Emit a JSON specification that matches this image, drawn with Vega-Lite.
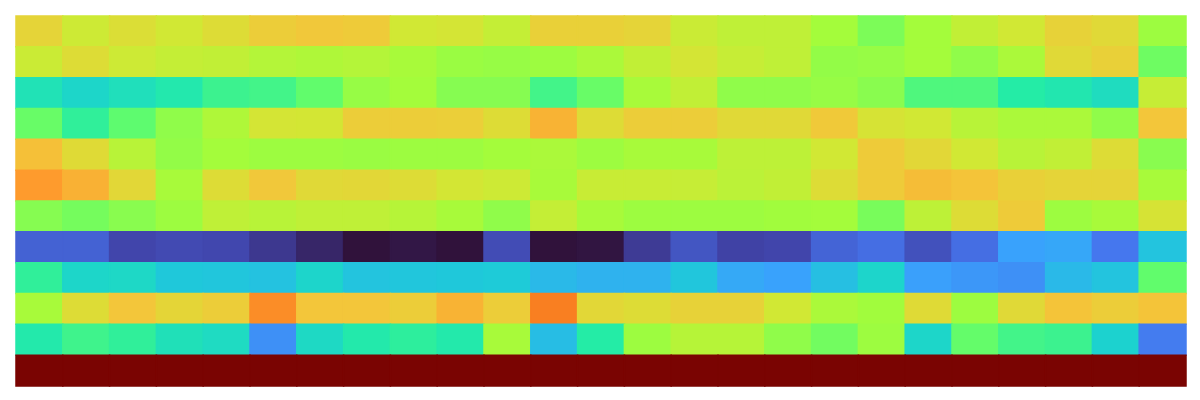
{
  "$schema": "https://vega.github.io/schema/vega-lite/v6.json",
  "width": 1170,
  "height": 370,
  "padding": 15,
  "background": "white",
  "config": {"view": {"stroke": null}},
  "data": {"values": [
{"r":1,"c":1,"v":8.6},{"r":1,"c":2,"v":7.9},{"r":1,"c":3,"v":8.3},{"r":1,"c":4,"v":8.0},{"r":1,"c":5,"v":8.35},{"r":1,"c":6,"v":8.8},{"r":1,"c":7,"v":8.95},{"r":1,"c":8,"v":8.85},{"r":1,"c":9,"v":8.0},{"r":1,"c":10,"v":8.1},{"r":1,"c":11,"v":7.7},{"r":1,"c":12,"v":8.7},{"r":1,"c":13,"v":8.7},{"r":1,"c":14,"v":8.6},{"r":1,"c":15,"v":7.85},{"r":1,"c":16,"v":7.6},{"r":1,"c":17,"v":7.6},{"r":1,"c":18,"v":7.0},{"r":1,"c":19,"v":6.4},{"r":1,"c":20,"v":7.0},{"r":1,"c":21,"v":7.65},{"r":1,"c":22,"v":8.0},{"r":1,"c":23,"v":8.65},{"r":1,"c":24,"v":8.45},{"r":1,"c":25,"v":6.9},
{"r":2,"c":1,"v":7.85},{"r":2,"c":2,"v":8.35},{"r":2,"c":3,"v":7.9},{"r":2,"c":4,"v":7.7},{"r":2,"c":5,"v":7.65},{"r":2,"c":6,"v":7.35},{"r":2,"c":7,"v":7.25},{"r":2,"c":8,"v":7.35},{"r":2,"c":9,"v":7.1},{"r":2,"c":10,"v":6.85},{"r":2,"c":11,"v":6.8},{"r":2,"c":12,"v":6.9},{"r":2,"c":13,"v":7.15},{"r":2,"c":14,"v":7.65},{"r":2,"c":15,"v":8.1},{"r":2,"c":16,"v":7.75},{"r":2,"c":17,"v":7.6},{"r":2,"c":18,"v":6.75},{"r":2,"c":19,"v":6.8},{"r":2,"c":20,"v":7.0},{"r":2,"c":21,"v":6.7},{"r":2,"c":22,"v":7.15},{"r":2,"c":23,"v":8.45},{"r":2,"c":24,"v":8.7},{"r":2,"c":25,"v":6.2},
{"r":3,"c":1,"v":4.65},{"r":3,"c":2,"v":4.25},{"r":3,"c":3,"v":4.55},{"r":3,"c":4,"v":4.85},{"r":3,"c":5,"v":5.4},{"r":3,"c":6,"v":5.5},{"r":3,"c":7,"v":6.0},{"r":3,"c":8,"v":6.8},{"r":3,"c":9,"v":7.0},{"r":3,"c":10,"v":6.55},{"r":3,"c":11,"v":6.55},{"r":3,"c":12,"v":5.5},{"r":3,"c":13,"v":6.1},{"r":3,"c":14,"v":7.1},{"r":3,"c":15,"v":7.65},{"r":3,"c":16,"v":6.7},{"r":3,"c":17,"v":6.7},{"r":3,"c":18,"v":6.8},{"r":3,"c":19,"v":6.6},{"r":3,"c":20,"v":5.7},{"r":3,"c":21,"v":5.7},{"r":3,"c":22,"v":5.0},{"r":3,"c":23,"v":4.8},{"r":3,"c":24,"v":4.45},{"r":3,"c":25,"v":7.75},
{"r":4,"c":1,"v":6.1},{"r":4,"c":2,"v":5.2},{"r":4,"c":3,"v":5.95},{"r":4,"c":4,"v":6.7},{"r":4,"c":5,"v":7.25},{"r":4,"c":6,"v":8.1},{"r":4,"c":7,"v":8.05},{"r":4,"c":8,"v":8.8},{"r":4,"c":9,"v":8.8},{"r":4,"c":10,"v":8.75},{"r":4,"c":11,"v":8.35},{"r":4,"c":12,"v":9.45},{"r":4,"c":13,"v":8.35},{"r":4,"c":14,"v":8.8},{"r":4,"c":15,"v":8.8},{"r":4,"c":16,"v":8.45},{"r":4,"c":17,"v":8.45},{"r":4,"c":18,"v":8.9},{"r":4,"c":19,"v":8.15},{"r":4,"c":20,"v":8.0},{"r":4,"c":21,"v":7.45},{"r":4,"c":22,"v":7.15},{"r":4,"c":23,"v":7.15},{"r":4,"c":24,"v":6.7},{"r":4,"c":25,"v":9.0},
{"r":5,"c":1,"v":9.15},{"r":5,"c":2,"v":8.4},{"r":5,"c":3,"v":7.45},{"r":5,"c":4,"v":6.75},{"r":5,"c":5,"v":7.0},{"r":5,"c":6,"v":6.9},{"r":5,"c":7,"v":6.9},{"r":5,"c":8,"v":6.85},{"r":5,"c":9,"v":6.9},{"r":5,"c":10,"v":6.9},{"r":5,"c":11,"v":7.0},{"r":5,"c":12,"v":7.15},{"r":5,"c":13,"v":6.9},{"r":5,"c":14,"v":7.1},{"r":5,"c":15,"v":7.1},{"r":5,"c":16,"v":7.55},{"r":5,"c":17,"v":7.55},{"r":5,"c":18,"v":8.0},{"r":5,"c":19,"v":8.85},{"r":5,"c":20,"v":8.5},{"r":5,"c":21,"v":8.0},{"r":5,"c":22,"v":7.45},{"r":5,"c":23,"v":7.65},{"r":5,"c":24,"v":8.35},{"r":5,"c":25,"v":6.6},
{"r":6,"c":1,"v":10.0},{"r":6,"c":2,"v":9.5},{"r":6,"c":3,"v":8.5},{"r":6,"c":4,"v":7.1},{"r":6,"c":5,"v":8.35},{"r":6,"c":6,"v":8.95},{"r":6,"c":7,"v":8.45},{"r":6,"c":8,"v":8.5},{"r":6,"c":9,"v":8.35},{"r":6,"c":10,"v":8.05},{"r":6,"c":11,"v":7.9},{"r":6,"c":12,"v":7.1},{"r":6,"c":13,"v":7.8},{"r":6,"c":14,"v":7.8},{"r":6,"c":15,"v":7.75},{"r":6,"c":16,"v":7.5},{"r":6,"c":17,"v":7.65},{"r":6,"c":18,"v":8.35},{"r":6,"c":19,"v":8.85},{"r":6,"c":20,"v":9.2},{"r":6,"c":21,"v":9.05},{"r":6,"c":22,"v":8.7},{"r":6,"c":23,"v":8.6},{"r":6,"c":24,"v":8.6},{"r":6,"c":25,"v":7.1},
{"r":7,"c":1,"v":6.55},{"r":7,"c":2,"v":6.3},{"r":7,"c":3,"v":6.6},{"r":7,"c":4,"v":6.9},{"r":7,"c":5,"v":7.6},{"r":7,"c":6,"v":7.45},{"r":7,"c":7,"v":7.6},{"r":7,"c":8,"v":7.6},{"r":7,"c":9,"v":7.4},{"r":7,"c":10,"v":7.1},{"r":7,"c":11,"v":6.7},{"r":7,"c":12,"v":7.7},{"r":7,"c":13,"v":7.1},{"r":7,"c":14,"v":6.9},{"r":7,"c":15,"v":6.9},{"r":7,"c":16,"v":6.9},{"r":7,"c":17,"v":6.95},{"r":7,"c":18,"v":7.0},{"r":7,"c":19,"v":6.35},{"r":7,"c":20,"v":7.55},{"r":7,"c":21,"v":8.35},{"r":7,"c":22,"v":8.85},{"r":7,"c":23,"v":6.9},{"r":7,"c":24,"v":7.1},{"r":7,"c":25,"v":8.15},
{"r":8,"c":1,"v":1.6},{"r":8,"c":2,"v":1.6},{"r":8,"c":3,"v":1.0},{"r":8,"c":4,"v":1.1},{"r":8,"c":5,"v":1.05},{"r":8,"c":6,"v":0.75},{"r":8,"c":7,"v":0.4},{"r":8,"c":8,"v":0.0},{"r":8,"c":9,"v":0.1},{"r":8,"c":10,"v":0.0},{"r":8,"c":11,"v":1.15},{"r":8,"c":12,"v":0.0},{"r":8,"c":13,"v":0.05},{"r":8,"c":14,"v":0.8},{"r":8,"c":15,"v":1.35},{"r":8,"c":16,"v":0.95},{"r":8,"c":17,"v":1.0},{"r":8,"c":18,"v":1.65},{"r":8,"c":19,"v":1.85},{"r":8,"c":20,"v":1.25},{"r":8,"c":21,"v":1.85},{"r":8,"c":22,"v":3.0},{"r":8,"c":23,"v":3.1},{"r":8,"c":24,"v":2.05},{"r":8,"c":25,"v":3.75},
{"r":9,"c":1,"v":5.2},{"r":9,"c":2,"v":4.25},{"r":9,"c":3,"v":4.3},{"r":9,"c":4,"v":3.85},{"r":9,"c":5,"v":3.8},{"r":9,"c":6,"v":3.7},{"r":9,"c":7,"v":4.2},{"r":9,"c":8,"v":3.75},{"r":9,"c":9,"v":3.8},{"r":9,"c":10,"v":3.85},{"r":9,"c":11,"v":3.9},{"r":9,"c":12,"v":3.5},{"r":9,"c":13,"v":3.35},{"r":9,"c":14,"v":3.35},{"r":9,"c":15,"v":3.8},{"r":9,"c":16,"v":3.15},{"r":9,"c":17,"v":3.0},{"r":9,"c":18,"v":3.65},{"r":9,"c":19,"v":4.2},{"r":9,"c":20,"v":2.95},{"r":9,"c":21,"v":2.75},{"r":9,"c":22,"v":2.6},{"r":9,"c":23,"v":3.5},{"r":9,"c":24,"v":3.75},{"r":9,"c":25,"v":6.0},
{"r":10,"c":1,"v":7.1},{"r":10,"c":2,"v":8.35},{"r":10,"c":3,"v":9.0},{"r":10,"c":4,"v":8.55},{"r":10,"c":5,"v":8.8},{"r":10,"c":6,"v":10.25},{"r":10,"c":7,"v":9.0},{"r":10,"c":8,"v":9.0},{"r":10,"c":9,"v":8.8},{"r":10,"c":10,"v":9.45},{"r":10,"c":11,"v":8.8},{"r":10,"c":12,"v":10.5},{"r":10,"c":13,"v":8.5},{"r":10,"c":14,"v":8.35},{"r":10,"c":15,"v":8.65},{"r":10,"c":16,"v":8.65},{"r":10,"c":17,"v":8.0},{"r":10,"c":18,"v":7.15},{"r":10,"c":19,"v":6.95},{"r":10,"c":20,"v":8.4},{"r":10,"c":21,"v":6.9},{"r":10,"c":22,"v":8.45},{"r":10,"c":23,"v":9.05},{"r":10,"c":24,"v":8.8},{"r":10,"c":25,"v":9.05},
{"r":11,"c":1,"v":4.9},{"r":11,"c":2,"v":5.45},{"r":11,"c":3,"v":5.2},{"r":11,"c":4,"v":4.6},{"r":11,"c":5,"v":4.4},{"r":11,"c":6,"v":2.6},{"r":11,"c":7,"v":4.35},{"r":11,"c":8,"v":4.9},{"r":11,"c":9,"v":5.15},{"r":11,"c":10,"v":4.9},{"r":11,"c":11,"v":7.1},{"r":11,"c":12,"v":3.6},{"r":11,"c":13,"v":5.0},{"r":11,"c":14,"v":6.9},{"r":11,"c":15,"v":7.4},{"r":11,"c":16,"v":7.4},{"r":11,"c":17,"v":6.7},{"r":11,"c":18,"v":6.25},{"r":11,"c":19,"v":6.9},{"r":11,"c":20,"v":4.25},{"r":11,"c":21,"v":6.05},{"r":11,"c":22,"v":5.5},{"r":11,"c":23,"v":5.4},{"r":11,"c":24,"v":4.1},{"r":11,"c":25,"v":2.15},
{"r":12,"c":1,"v":14},{"r":12,"c":2,"v":14},{"r":12,"c":3,"v":14},{"r":12,"c":4,"v":14},{"r":12,"c":5,"v":14},{"r":12,"c":6,"v":14},{"r":12,"c":7,"v":14},{"r":12,"c":8,"v":14},{"r":12,"c":9,"v":14},{"r":12,"c":10,"v":14},{"r":12,"c":11,"v":14},{"r":12,"c":12,"v":14},{"r":12,"c":13,"v":14},{"r":12,"c":14,"v":14},{"r":12,"c":15,"v":14},{"r":12,"c":16,"v":14},{"r":12,"c":17,"v":14},{"r":12,"c":18,"v":14},{"r":12,"c":19,"v":14},{"r":12,"c":20,"v":14},{"r":12,"c":21,"v":14},{"r":12,"c":22,"v":14},{"r":12,"c":23,"v":14},{"r":12,"c":24,"v":14},{"r":12,"c":25,"v":14}
  ]},
  "mark": {"type": "rect", "strokeWidth": 1.5, "strokeOpacity": 1, "fillOpacity": 1, "opacity": 1},
  "encoding": {
    "x": {"field": "c", "type": "ordinal", "axis": null, "scale": {"paddingInner": 0, "paddingOuter": 0}},
    "y": {"field": "r", "type": "ordinal", "axis": null, "scale": {"paddingInner": 0, "paddingOuter": 0}},
    "color": {
      "field": "v", "type": "quantitative", "legend": null,
      "scale": {
        "type": "linear",
        "domain": [0,1,2,3,4,5,6,7,8,9,10,11,12,13,14],
        "range": ["#30123b","#4145ab","#4675ed","#39a2fc","#1bcfd4","#24eca6","#61fc6c","#a4fc3b","#d1e834","#f3c63a","#fe9b2d","#f36315","#d93806","#b11901","#7a0402"],
        "interpolate": "rgb"
      }
    },
    "stroke": {
      "field": "v", "type": "quantitative", "legend": null,
      "scale": {
        "type": "linear",
        "domain": [0,1,2,3,4,5,6,7,8,9,10,11,12,13,14],
        "range": ["#30123b","#4145ab","#4675ed","#39a2fc","#1bcfd4","#24eca6","#61fc6c","#a4fc3b","#d1e834","#f3c63a","#fe9b2d","#f36315","#d93806","#b11901","#7a0402"],
        "interpolate": "rgb"
      }
    }
  }
}
